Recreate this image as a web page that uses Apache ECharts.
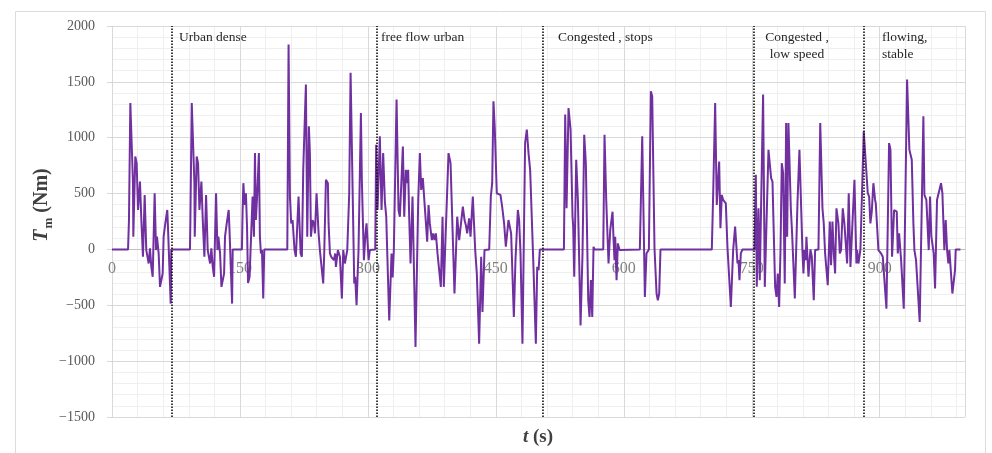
<!DOCTYPE html>
<html><head><meta charset="utf-8">
<script src="https://cdn.jsdelivr.net/npm/echarts@6/dist/echarts.min.js"></script>
<style>html,body{margin:0;padding:0;background:#fff}#c{width:992px;height:453px}</style>
</head><body><div id="c"></div>
<script>
// time (s)
const timeS = [
0,18.8,19.9,21.5,24.6,25.0,27.3,28.9,30.5,32.8,34.4,36.3,38.3,40.2,43.0,44.5,46.1,47.7,50.0,51.6,52.7,54.7,56.3,58.6,59.4,60.5,62.5,64.8,65.6,68.8,69.5,
91.4,91.9,93.5,96.6,97.0,99.3,100.9,102.5,104.8,106.4,108.3,110.3,112.2,115.0,116.5,118.1,119.7,122.0,123.6,124.7,126.7,128.3,130.6,131.4,132.5,134.5,136.8,137.6,140.8,141.5,
152.3,153.1,154.0,155.5,157.0,158.3,159.5,161.3,164.8,166.4,167.6,168.7,170.3,172.2,173.4,174.6,175.8,177.3,178.5,
205.5,207.0,208.6,210.1,211.7,214.0,215.6,218.7,221.1,222.6,224.2,227.3,228.9,230.8,232.0,233.2,235.1,236.7,237.9,239.8,242.2,243.7,247.6,248.8,250.8,253.1,253.9,255.5,257.0,258.6,260.1,261.7,262.5,264.8,267.2,269.5,271.1,273.0,275.8,278.1,279.7,281.2,284.0,285.1,286.7,289.0,291.8,292.9,295.3,297.2,298.4,300.8,302.3,308.6,
309.7,311.3,314.0,316.0,317.9,319.9,321.5,322.6,325.0,327.7,329.0,330.4,333.6,335.9,337.5,341.0,342.6,344.5,346.1,347.2,348.4,350.0,352.3,355.8,359.0,360.9,362.5,364.4,366.4,369.5,371.1,372.6,374.2,375.0,376.5,378.1,379.7,381.6,385.5,387.5,389.0,394.5,396.9,401.5,404.7,407.0,409.0,411.3,413.3,414.8,416.4,418.7,420.3,423.0,425.8,427.7,430.4,432.8,434.3,436.7,442.2,444.1,445.7,447.2,448.8,451.1,455.4,457.4,459.7,461.7,464.8,467.9,471.1,473.0,475.8,477.3,478.9,481.2,482.8,484.3,486.3,488.3,490.2,493.7,496.9,498.5,500.1,501.6,
529.8,531.3,532.9,535.2,537.6,539.9,540.7,541.9,544.2,546.2,549.3,551.6,553.6,555.5,558.3,559.8,561.4,563.0,564.5,565.7,575.9,577.4,579.4,582.1,584.1,586.8,588.0,589.1,589.9,591.5,593.0,595.0,618.8,621.6,624.7,626.6,629.4,631.7,633.3,636.0,638.4,639.9,641.5,643.0,
703.2,704.8,707.1,709.0,711.8,713.3,714.9,716.5,719.6,721.5,725.5,728.2,730.5,733.3,734.4,735.6,737.2,739.1,
753.2,754.8,755.9,757.9,759.4,763.3,765.3,769.6,771.2,772.7,774.3,777.4,779.0,780.5,782.1,783.7,785.2,786.8,788.7,790.3,791.5,793.0,795.8,797.3,800.5,803.6,805.9,809.4,810.6,811.8,813.3,814.1,816.5,818.8,820.4,822.7,824.3,828.2,830.3,832.9,834.4,836.0,839.1,841.5,843.0,844.6,846.2,847.7,849.3,851.6,853.2,854.7,856.7,858.6,861.8,863.7,865.7,870.4,872.7,873.5,875.1,877.4,879.7,
881.3,882.9,886.0,887.6,889.1,890.7,892.6,894.6,895.4,898.5,901.6,903.6,907.9,911.0,912.6,914.5,916.9,920.0,921.2,922.7,925.1,928.2,932.1,934.8,937.6,939.5,940.7,942.6,946.9,951.2,952.4,954.7,957.5,959.0,960.6,963.3,964.9,967.2,971.9,973.5,975.8,977.4,979.0,980.5,981.7,983.7,985.2,986.8,988.3,989.1,994.6
];
// motor torque (Nm)
const torqueNm = [
0,0,263,1311,593,114,832,772,353,608,263,-66,488,-6,-126,9,-156,-245,503,-6,114,-36,-335,-350,-216,114,233,353,204,-485,0,
0,263,1311,593,114,832,772,353,608,263,-66,488,-6,-126,9,-156,-245,503,-6,114,-36,-335,-350,-216,114,233,353,204,-485,0,
0,337,593,398,503,200,-300,-245,473,114,862,263,503,862,114,-36,-6,-440,0,
0,1835,473,233,263,-6,-66,473,-36,-66,712,1476,114,1102,862,114,263,233,144,503,144,-6,-305,-36,623,593,233,-36,-66,-51,-96,-36,-156,-6,-66,-440,-6,-126,-6,503,1581,1581,-305,-245,-500,-6,1222,623,-96,144,233,-96,-6,0,
937,353,1012,353,862,428,293,-6,-635,-36,-250,-6,1341,353,293,922,293,712,593,712,293,-126,473,-874,443,862,533,638,623,69,398,233,233,84,144,84,144,-36,-335,293,-335,862,772,-395,293,84,69,383,263,219,144,278,114,473,-6,-216,-844,-66,-560,-6,0,473,593,1326,1072,503,488,383,233,24,263,144,-605,-96,353,263,-36,-844,84,952,1072,862,712,-66,-844,-156,-186,0,
0,1207,368,1266,1072,293,204,-245,802,443,-680,-36,1027,772,-455,-605,-275,-605,24,0,0,1027,443,-126,174,338,84,-96,114,-275,54,-6,0,1012,-425,-36,0,1416,1371,9,-395,-455,-395,0,
0,503,1311,398,787,189,488,443,413,24,-515,-6,204,-126,-96,-275,-36,0,
0,668,-335,368,-275,1386,-335,892,877,638,608,-335,-425,-216,-515,-6,772,683,-305,1132,114,1132,368,144,-440,413,892,-6,-216,-6,-96,114,-245,0,-66,-455,-6,0,1132,368,233,-36,-320,249,-141,249,-36,-216,368,233,-36,-6,368,233,-126,503,-156,623,-126,-6,-126,0,0,
1057,1072,503,473,233,338,593,443,413,-6,-36,-66,-530,952,892,-66,353,338,-36,144,-96,-530,1521,892,802,233,-6,-96,-650,1192,488,443,-6,473,114,-36,-350,443,593,503,-6,263,-6,-126,-6,-6,-395,-410,-186,0,0
];
const xTickLabels = [0, 150, 300, 450, 600, 750, 900];
const phaseBoundsS = [70, 310, 505, 752, 881];
const phaseNames = ['Urban dense', 'free flow urban', 'Congested , stops', 'Congested ,\nlow speed', 'flowing,\nstable'];

const chart = echarts.init(document.getElementById('c'), null, {renderer: 'canvas'});
const seriesData = timeS.map((t, i) => [t, torqueNm[i]]);
const serif = '"Liberation Serif", "DejaVu Serif", serif';
const major = '#d9d9d9', minor = '#efefef';
const Y_MIN = -1500, Y_MAX = 2000, GRID_TOP = 26, GRID_BOTTOM = 36, H = 453;
// shift the labelled time axis up to the zero torque line (axis crosses at y = 0)
const plotH = H - GRID_TOP - GRID_BOTTOM;
const zeroOffset = -plotH * (0 - Y_MIN) / (Y_MAX - Y_MIN);

chart.setOption({
  animation: false,
  backgroundColor: '#fff',
  grid: {left: 112, right: 27, top: GRID_TOP, bottom: GRID_BOTTOM},
  xAxis: [{
    type: 'value', min: 0, max: 1000, interval: 150, position: 'bottom', offset: zeroOffset,
    axisLine: {show: true, onZero: false, lineStyle: {color: '#bfbfbf', width: 1}},
    axisTick: {show: false},
    axisLabel: {
      margin: 11, color: '#808080', fontFamily: serif, fontSize: 16,
      formatter: v => xTickLabels.includes(v) ? String(v) : ''
    },
    splitLine: {show: true, lineStyle: {color: major, width: 1}}
  }, {
    type: 'value', min: 0, max: 1000, interval: 30, position: 'top', z: -1,
    axisLine: {show: false, onZero: false}, axisTick: {show: false}, axisLabel: {show: false},
    splitLine: {show: true, lineStyle: {color: minor, width: 1}}
  }],
  yAxis: [{
    type: 'value', min: Y_MIN, max: Y_MAX, interval: 500, position: 'left',
    axisLine: {show: true, onZero: false, lineStyle: {color: major}},
    axisTick: {show: true, length: 5, lineStyle: {color: major}},
    axisLabel: {
      margin: 17, color: '#595959', fontFamily: serif, fontSize: 14,
      formatter: v => String(v).replace('-', '\u2212')
    },
    splitLine: {show: true, lineStyle: {color: major, width: 1}}
  }, {
    type: 'value', min: Y_MIN, max: Y_MAX, interval: 100, position: 'right', z: -1,
    axisLine: {show: false, onZero: false}, axisTick: {show: false}, axisLabel: {show: false},
    splitLine: {show: true, lineStyle: {color: minor, width: 1}}
  }],
  series: [{
    type: 'line', xAxisIndex: 0, yAxisIndex: 0,
    data: seriesData, showSymbol: false, symbol: 'none',
    lineStyle: {color: '#7030a0', width: 2}, z: 3,
    markLine: {
      silent: true, symbol: ['none', 'none'], label: {show: false},
      lineStyle: {color: '#111', type: [1.5, 1.5], width: 1.6},
      data: phaseBoundsS.map(v => ({xAxis: v}))
    }
  }],
  graphic: [
    {type: 'rect', silent: true, z: -10, shape: {x: 15.5, y: 11.5, width: 970, height: 470},
     style: {fill: 'none', stroke: '#dcdcdc', lineWidth: 1}},
    {type: 'text', x: 179, y: 37, style: {text: phaseNames[0], font: '13.5px ' + serif, fill: '#262626', verticalAlign: 'middle'}},
    {type: 'text', x: 381, y: 37, style: {text: phaseNames[1], font: '13.5px ' + serif, fill: '#262626', verticalAlign: 'middle'}},
    {type: 'text', x: 558, y: 37, style: {text: phaseNames[2], font: '13.5px ' + serif, fill: '#262626', verticalAlign: 'middle'}},
    {type: 'text', x: 797, y: 29, style: {text: phaseNames[3], font: '13.5px ' + serif, fill: '#262626', align: 'center', verticalAlign: 'top', lineHeight: 17}},
    {type: 'text', x: 882, y: 29, style: {text: phaseNames[4], font: '13.5px ' + serif, fill: '#262626', align: 'left', verticalAlign: 'top', lineHeight: 17}},
    {type: 'text', x: 538, y: 437, style: {
      text: '{i|t}{b| (s)}', align: 'center', verticalAlign: 'middle',
      rich: {
        i: {fontFamily: serif, fontStyle: 'italic', fontWeight: 'bold', fontSize: 19, fill: '#404040', color: '#404040'},
        b: {fontFamily: serif, fontWeight: 'bold', fontSize: 19, fill: '#404040', color: '#404040'}
      }}},
    {type: 'text', x: 42, y: 205, rotation: Math.PI / 2, style: {
      text: '{i|T}{s|m}{b| (Nm)}', align: 'center', verticalAlign: 'middle',
      rich: {
        i: {fontFamily: serif, fontStyle: 'italic', fontWeight: 'bold', fontSize: 20, fill: '#404040', color: '#404040', lineHeight: 24},
        s: {fontFamily: serif, fontWeight: 'bold', fontSize: 13, fill: '#404040', color: '#404040', lineHeight: 13, padding: [13, 0, 0, 1]},
        b: {fontFamily: serif, fontWeight: 'bold', fontSize: 20, fill: '#404040', color: '#404040', lineHeight: 24}
      }}}
  ]
});
</script>
</body></html>
